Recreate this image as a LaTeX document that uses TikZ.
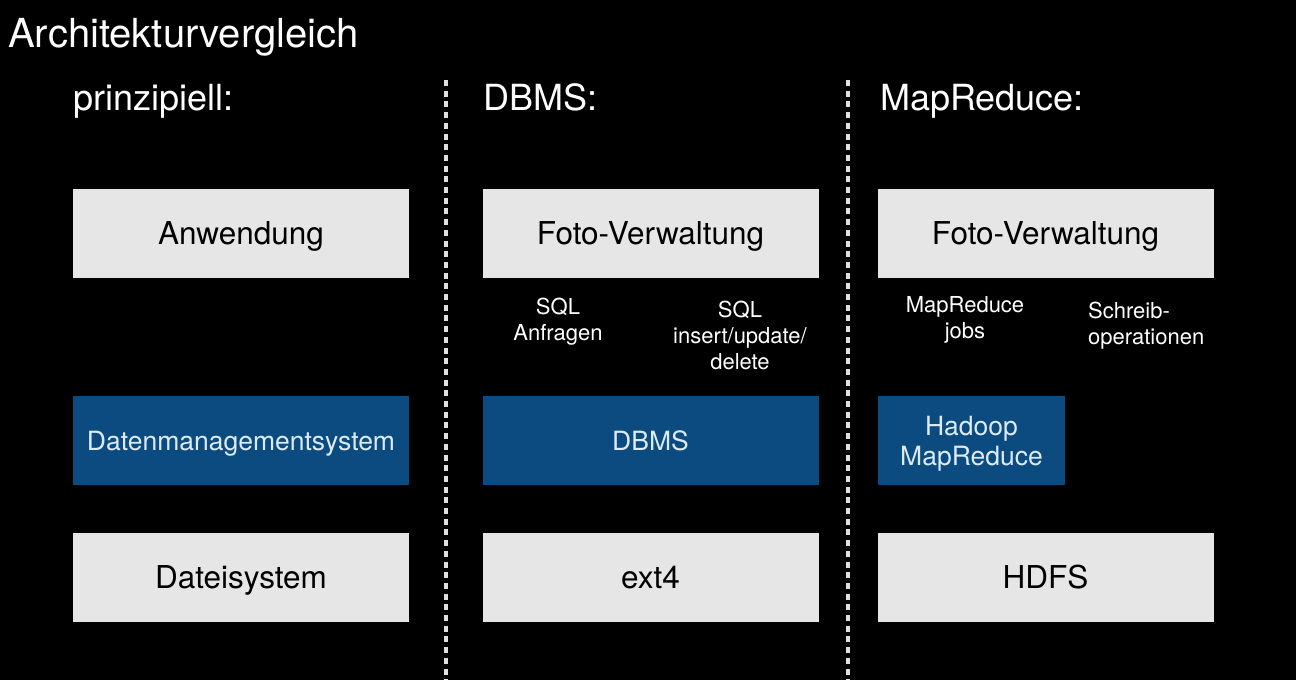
\documentclass[tikz,border=0pt]{standalone}
\usepackage{fontspec}
\setmainfont{TeX Gyre Heros}
\definecolor{boxgray}{HTML}{E6E6E6}
\definecolor{boxblue}{HTML}{0C4B80}
\definecolor{bluetext}{HTML}{DDEBF7}
\definecolor{dotcol}{HTML}{E0E0E0}
\begin{document}
\begin{tikzpicture}[x=1pt,y=-1pt,
  graybox/.style={fill=boxgray,draw=none,minimum width=336pt,minimum height=89pt,inner sep=0pt,
    font=\fontsize{31.5}{36}\selectfont,text=black,text height=22.6pt,text depth=0pt},
  bluebox/.style={fill=boxblue,draw=none,minimum width=336pt,minimum height=89pt,inner sep=0pt,
    font=\fontsize{26.5}{30}\selectfont,text=bluetext},
  onebox/.style={bluebox,text height=19pt,text depth=0pt},
  heading/.style={anchor=base west,inner sep=0pt,text=white,font=\fontsize{36}{40}\selectfont},
  label/.style={inner sep=0pt,text=white,font=\fontsize{22}{26}\selectfont,align=center},
  sep/.style={dotcol,line width=3.5pt,dash pattern=on 6pt off 4.7pt}]
\fill[black] (0,0) rectangle (1296,680);
\useasboundingbox (0,0) rectangle (1296,680);

\node[anchor=base west,inner sep=0pt,text=white,font=\fontsize{40}{44}\selectfont] (title) at (8,47) {Architekturvergleich};
\node[heading] (h1) at (73,110) {prinzipiell:};
\node[heading] (h2) at (483,110) {DBMS:};
\node[heading] (h3) at (880,110) {MapReduce:};

\coordinate (s1t) at (446,80);
\coordinate (s1b) at (446,680);
\coordinate (s2t) at (848,80);
\coordinate (s2b) at (848,680);
\draw[sep] (s1t) -- (s1b);
\draw[sep] (s2t) -- (s2b);

% column 1
\node[graybox] (anw) at (241,233.5) {Anwendung};
\node[onebox] (dms) at (241,440.5) {Datenmanagementsystem};
\node[graybox] (dat) at (241,577.5) {Dateisystem};

% column 2
\node[graybox] (foto1) at (650.5,233.5) {Foto-Verwaltung};
\node[onebox] (dbms) at (650.5,440.5) {DBMS};
\node[graybox] (ext) at (650.5,577.5) {ext4};
\node[label] (sqla) at (558,322) {SQL\\Anfragen};
\node[label] (sqli) at (740,335) {SQL\\insert/update/\\delete};

% column 3
\node[graybox] (foto2) at (1045.5,233.5) {Foto-Verwaltung};
\fill[boxblue] (878,396) rectangle (1065,485);
\node[bluebox,align=center,fill=none,minimum width=187pt,minimum height=0pt] (hadoop) at (971.5,443.5) {Hadoop\\MapReduce};
\node[graybox] (hdfs) at (1045.5,577.5) {HDFS};
\node[label] (mrj) at (965,320) {MapReduce\\jobs};
\node[label,align=left,anchor=west] (schr) at (1088,326) {Schreib-\\operationen};
\end{tikzpicture}
\end{document}
